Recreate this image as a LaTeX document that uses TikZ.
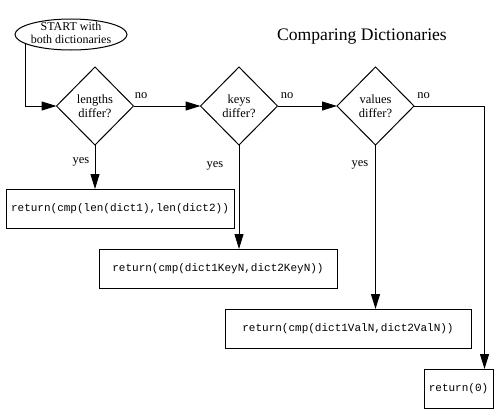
\documentclass[tikz,border=0pt]{standalone}
\usepackage{fontspec}
\setmainfont{Liberation Serif}
\setmonofont{Liberation Mono}
\usetikzlibrary{shapes.geometric,arrows.meta}
\begin{document}
\begin{tikzpicture}[x=1pt,y=-1pt,
  line width=1pt,
  decision/.style={draw, diamond, minimum width=77pt, minimum height=78pt, inner sep=0pt, outer sep=0pt, font=\fontsize{12.5}{13.5}\selectfont, align=center},
  startnode/.style={draw, ellipse, minimum width=112pt, minimum height=31pt, inner xsep=-12pt, inner ysep=-6pt, outer sep=0pt, font=\fontsize{12}{12.5}\selectfont, align=center, text depth=3pt},
  retbox/.style={draw, rectangle, minimum height=39pt, inner sep=0pt, outer sep=0pt, font=\fontsize{11}{12}\selectfont\ttfamily},
  flow/.style={-{Triangle[length=15pt,width=9pt]}},
  lbl/.style={font=\fontsize{12.5}{14}\selectfont, inner sep=0pt, anchor=base},
  titlestyle/.style={font=\fontsize{17.6}{20}\selectfont, inner sep=0pt, anchor=base}
]
\useasboundingbox (0,0) rectangle (500,418);

\node[titlestyle] (title) at (362,40.7) {Comparing Dictionaries};

\node[startnode] (start) at (71,34.5) {START with\\both dictionaries};

\node[decision] (d1) at (95,106) {lengths\\differ?};
\node[decision] (d2) at (239,106) {keys\\differ?};
\node[decision] (d3) at (375.5,106) {values\\differ?};

\node[retbox, minimum width=228pt] (b1) at (120,208.5) {return(cmp(len(dict1),len(dict2))};
\node[retbox, minimum width=238pt] (b2) at (218,268.5) {return(cmp(dict1KeyN,dict2KeyN))};
\node[retbox, minimum width=246pt] (b3) at (348,328.5) {return(cmp(dict1ValN,dict2ValN))};
\node[retbox, minimum width=69pt] (b4) at (458.5,388.5) {return(0)};

\node[lbl] (no1) at (141,98.5) {no};
\node[lbl] (no2) at (287,98.5) {no};
\node[lbl] (no3) at (423.5,98.5) {no};
\node[lbl] (yes1) at (81,163) {yes};
\node[lbl] (yes2) at (215,167) {yes};
\node[lbl] (yes3) at (360,166) {yes};

\draw[flow] (start.191.6) |- (d1.west);
\draw[flow] (d1.east) -- (d2.west);
\draw[flow] (d2.east) -- (d3.west);
\draw[flow] (d3.east) -| ([xshift=-8.5pt]b4.north east);
\draw[flow] (d1.south) -- (d1.south |- b1.north);
\draw[flow] (d2.south) -- (d2.south |- b2.north);
\draw[flow] (d3.south) -- (d3.south |- b3.north);
\end{tikzpicture}
\end{document}
